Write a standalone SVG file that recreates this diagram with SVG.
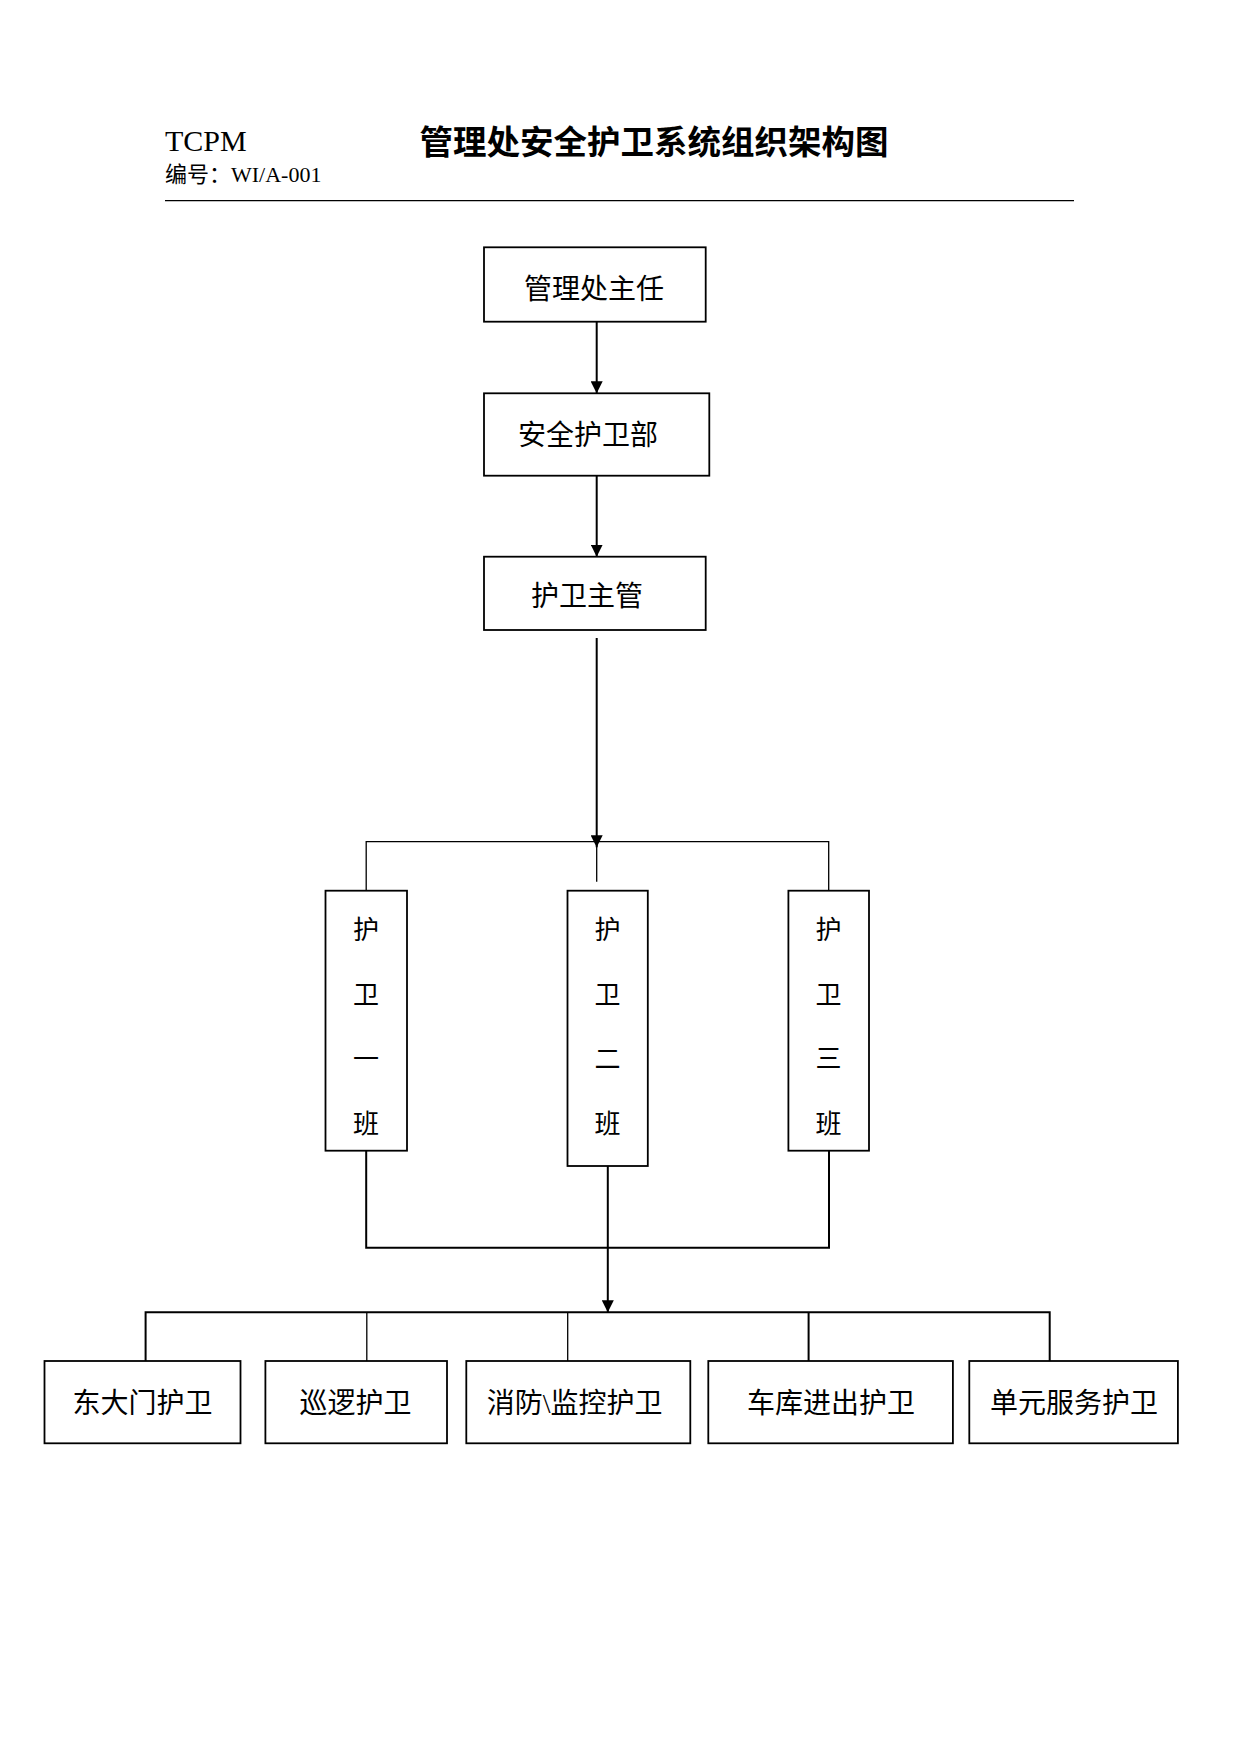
<svg xmlns="http://www.w3.org/2000/svg" width="1241" height="1755" viewBox="0 0 1241 1755">
<style>
.box{fill:#fff;stroke:#000;stroke-width:1.8}
.t{font-family:"Liberation Serif","Noto Sans CJK SC",serif;fill:#000;text-anchor:middle;dominant-baseline:central}
.t28{font-size:28px}
.t26{font-size:26px}
.c{fill:none;stroke:#000}
.thick{stroke-width:2}
.thin{stroke-width:1.3}
</style>
<defs>
<marker id="arr" viewBox="0 0 12 12" refX="12" refY="6" markerWidth="12" markerHeight="12" markerUnits="userSpaceOnUse" orient="auto">
<path d="M0,0 L12,6 L0,12 z" fill="#000"/>
</marker>
</defs>
<rect width="1241" height="1755" fill="#fff"/>
<g id="header">
<text x="165" y="151" font-family="Liberation Serif, serif" font-size="30" fill="#000">TCPM</text>
<text x="165" y="182" font-family="Liberation Serif, 'Noto Sans CJK SC', serif" font-size="22" fill="#000">编号：WI/A-001</text>
<text x="654" y="139" class="t" font-size="33.5" font-weight="700" style="font-family:'Noto Sans CJK SC',sans-serif">管理处安全护卫系统组织架构图</text>
<line x1="165" y1="200.7" x2="1074" y2="200.7" stroke="#000" stroke-width="1.3"/>
</g>
<g id="connectors">
<line class="c thick" x1="596.7" y1="321.7" x2="596.7" y2="393.3" marker-end="url(#arr)"/>
<line class="c thick" x1="596.7" y1="475.7" x2="596.7" y2="556.7" marker-end="url(#arr)"/>
<line class="c thin" x1="596.7" y1="841.7" x2="596.7" y2="881.7"/>
<polyline class="c thin" points="366.2,890.7 366.2,841.7 828.7,841.7 828.7,890.7"/>
<line class="c thick" x1="596.7" y1="638" x2="596.7" y2="847.3" marker-end="url(#arr)"/>
<polyline class="c thick" points="366.2,1150.7 366.2,1247.7 829,1247.7 829,1150.7"/>
<line class="c thick" x1="607.8" y1="1166" x2="607.8" y2="1312.3" marker-end="url(#arr)"/>
<polyline class="c thick" points="145.6,1361 145.6,1312.3 1049.7,1312.3 1049.7,1361"/>
<line class="c thin" x1="366.8" y1="1312.3" x2="366.8" y2="1361"/>
<line class="c thin" x1="567.7" y1="1312.3" x2="567.7" y2="1361"/>
<line class="c thick" x1="808.6" y1="1312.3" x2="808.6" y2="1361"/>
</g>
<g id="n_director">
<rect class="box" x="484" y="247.3" width="221.7" height="74.4"/>
<text class="t t28" x="594" y="289">管理处主任</text>
</g>
<g id="n_dept">
<rect class="box" x="484" y="393.3" width="225.3" height="82.4"/>
<text class="t t28" x="588" y="435.5">安全护卫部</text>
</g>
<g id="n_supervisor">
<rect class="box" x="484" y="556.7" width="221.7" height="73.3"/>
<text class="t t28" x="587" y="596.7">护卫主管</text>
</g>
<g id="n_team1">
<rect class="box" x="325.5" y="890.7" width="81.5" height="260"/>
<text class="t t26" x="366" y="930.5">护</text>
<text class="t t26" x="366" y="995">卫</text>
<text class="t t26" x="366" y="1059.5">一</text>
<text class="t t26" x="366" y="1124.5">班</text>
</g>
<g id="n_team2">
<rect class="box" x="567.5" y="890.7" width="80.3" height="275.3"/>
<text class="t t26" x="607.5" y="930.5">护</text>
<text class="t t26" x="607.5" y="995">卫</text>
<text class="t t26" x="607.5" y="1059.5">二</text>
<text class="t t26" x="607.5" y="1124.5">班</text>
</g>
<g id="n_team3">
<rect class="box" x="788.4" y="890.7" width="80.6" height="260"/>
<text class="t t26" x="828.5" y="930.5">护</text>
<text class="t t26" x="828.5" y="995">卫</text>
<text class="t t26" x="828.5" y="1059.5">三</text>
<text class="t t26" x="828.5" y="1124.5">班</text>
</g>
<g id="n_gate">
<rect class="box" x="44.5" y="1361" width="196" height="82.3"/>
<text class="t t28" x="142.5" y="1403">东大门护卫</text>
</g>
<g id="n_patrol">
<rect class="box" x="265.4" y="1361" width="181.6" height="82.3"/>
<text class="t t28" x="355.5" y="1403">巡逻护卫</text>
</g>
<g id="n_fire">
<rect class="box" x="466.3" y="1361" width="224" height="82.3"/>
<text class="t t28" x="574.6" y="1403">消防\监控护卫</text>
</g>
<g id="n_garage">
<rect class="box" x="708.3" y="1361" width="244.6" height="82.3"/>
<text class="t t28" x="831" y="1403">车库进出护卫</text>
</g>
<g id="n_unit">
<rect class="box" x="969.3" y="1361" width="208.6" height="82.3"/>
<text class="t t28" x="1074" y="1403">单元服务护卫</text>
</g>
</svg>
